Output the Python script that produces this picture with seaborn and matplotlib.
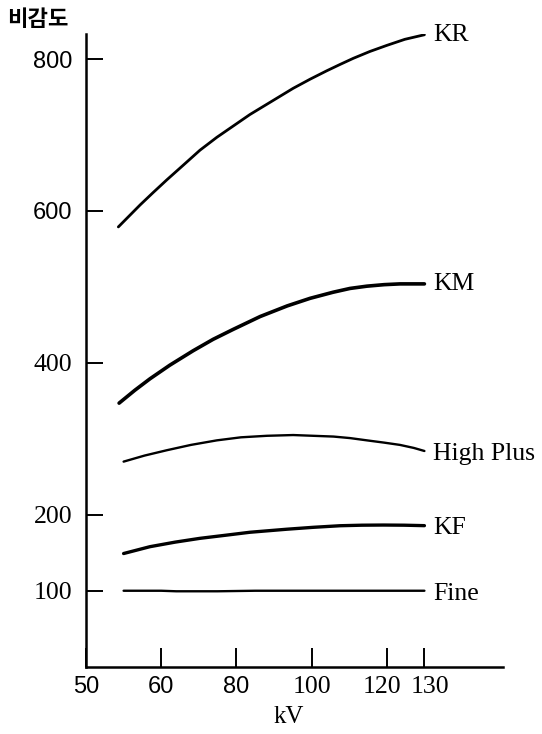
import numpy as np
import matplotlib
matplotlib.use("Agg")
import matplotlib.pyplot as plt
import matplotlib.transforms as mtrans
import seaborn as sns
import pandas as pd

# ---- data ----
kr_kv = [54.3, 55.9, 57.2, 58.9, 61.5, 65.8, 70.3, 74.8, 79.2, 83.6, 88.1,
         91.6, 95.1, 99.6, 104.0, 107.6, 111.1, 115.5, 120.0, 124.8, 130.0]
kr_val = [579, 595, 608, 624, 641, 660, 680, 697, 712, 727, 740.5,
          751, 761.5, 773.5, 784.5, 793, 801, 810, 818, 826, 832]

km_kv = [54.4, 56.5, 58.5, 62.3, 68.5, 73.8, 79.1, 86.3, 93.5, 99.6,
         105.7, 110.2, 114.7, 119.3, 123.5, 127.5, 130.0]
km_val = [347, 364, 379, 397, 416, 431, 444, 461, 475, 485,
          493, 498, 501, 503, 504, 504, 504]

hp_kv = [55.0, 57.8, 61.5, 67.9, 74.8, 81.2, 88.1, 95.1, 100.4, 105.8,
         110.2, 114.7, 119.3, 123.5, 127.2, 130.0]
hp_val = [270, 278, 285, 292, 298, 302, 304, 305, 304, 303,
          301, 298, 295, 292, 288, 284]

kf_kv = [55.0, 58.5, 63.7, 70.3, 77.0, 83.6, 93.4, 100.4, 107.6, 113.4,
         119.1, 124.6, 130.0]
kf_val = [149, 158, 164, 169, 173, 177, 181, 183.5, 185.6, 186.3,
          186.5, 186.3, 185.7]

fine_kv = [55.0, 60.0, 64.0, 75.0, 85.0, 100.0, 120.0, 130.0]
fine_val = [100, 100, 99.3, 99.3, 100, 100, 100, 100]

series_names = ["KR", "KM", "High Plus", "KF", "Fine"]
series_kv = [kr_kv, km_kv, hp_kv, kf_kv, fine_kv]
series_val = [kr_val, km_val, hp_val, kf_val, fine_val]

x_ticks = [50, 60, 80, 100, 120, 130]
y_ticks = [100, 200, 400, 600, 800]
x_label = "kV"
y_label = "비감도"

# ---- styles ----
series_lw = [2.0, 2.6, 1.7, 2.4, 1.7]
label_dy = [0, 0, -2, -1.5, -2.5]          # points
SANS, SERIF = "Liberation Sans", "Liberation Serif"
x_label_fonts = [SANS, SANS, SANS, SERIF, SERIF, SERIF]
x_label_dx = [0, 0, 0, 0, -5, 6]            # pixels
y_label_fonts = [SERIF, SERIF, SERIF, SANS, SANS]
font_size = {SANS: 17, SERIF: 18.5}

# ---- uneven kV axis (50-60 takes the same room as 60-80) ----
knot_kv = np.array([30, 50, 60, 80, 100, 120, 130, 170], dtype=float)
knot_pos = np.array([-2, 0, 1, 2, 3, 4, 4.5, 6.5], dtype=float)


def fwd(x):
    return np.interp(x, knot_kv, knot_pos)


def inv(p):
    return np.interp(p, knot_pos, knot_kv)


sns.set_theme(style="white")
plt.rcParams["font.family"] = ["Liberation Serif", "DejaVu Serif"]

W, H = 542, 734
fig = plt.figure(figsize=(W / 100, H / 100), dpi=100)
ax_l, ax_r, ax_b, ax_t = 86, 503, 666.7, 34
ax = fig.add_axes([ax_l / W, (H - ax_b) / H, (ax_r - ax_l) / W, (ax_b - ax_t) / H])

rows = []
for name, kv, val in zip(series_names, series_kv, series_val):
    for a, b in zip(kv, val):
        rows.append({"series": name, "kV": a, "value": b})
df = pd.DataFrame(rows)

for name, lw, dy in zip(series_names, series_lw, label_dy):
    sub = df[df["series"] == name]
    sns.lineplot(data=sub, x="kV", y="value", ax=ax, color="black",
                 linewidth=lw, sort=True, legend=False,
                 solid_capstyle="round", solid_joinstyle="round")
    ax.annotate(name, xy=(sub["kV"].iloc[-1], sub["value"].iloc[-1]),
                xytext=(6.5, dy), textcoords="offset points",
                ha="left", va="center", fontsize=18.5, color="black",
                annotation_clip=False)

ax.set_xscale("function", functions=(fwd, inv))
ax.set_xlim(50, 150.9)
ax.set_ylim(0, 833)
ax.set_xticks(x_ticks)
ax.set_xticklabels([str(t) for t in x_ticks])
ax.set_yticks(y_ticks)
ax.set_yticklabels([str(t) for t in y_ticks])
ax.minorticks_off()

for side in ["top", "right"]:
    ax.spines[side].set_visible(False)
for side in ["left", "bottom"]:
    ax.spines[side].set_color("black")
    ax.spines[side].set_linewidth(1.8)

ax.tick_params(axis="x", bottom=True, direction="in", length=13.5, width=1.4,
               pad=7, colors="black")
ax.tick_params(axis="y", left=True, direction="in", length=12.2, width=1.4,
               pad=10, colors="black")
ax.grid(False)

for lab, fam, dx in zip(ax.get_xticklabels(), x_label_fonts, x_label_dx):
    lab.set_fontfamily(fam)
    lab.set_fontsize(font_size[fam])
    if dx:
        lab.set_transform(lab.get_transform() +
                          mtrans.ScaledTranslation(dx / 100, 0, fig.dpi_scale_trans))
for lab, fam in zip(ax.get_yticklabels(), y_label_fonts):
    lab.set_fontfamily(fam)
    lab.set_fontsize(font_size[fam])

ax.set_xlabel(x_label, fontsize=18, color="black")
ax.xaxis.set_label_coords((289 - ax_l) / (ax_r - ax_l), (ax_b - 706) / (ax_b - ax_t))
ax.set_ylabel("")

fig.text(7 / W, 1 - 19 / H, y_label, ha="left", va="center",
         fontsize=16, fontweight="bold", color="black",
         family=["Noto Sans CJK KR", "DejaVu Sans"])

fig.savefig("out.png", dpi=100, facecolor="white")
